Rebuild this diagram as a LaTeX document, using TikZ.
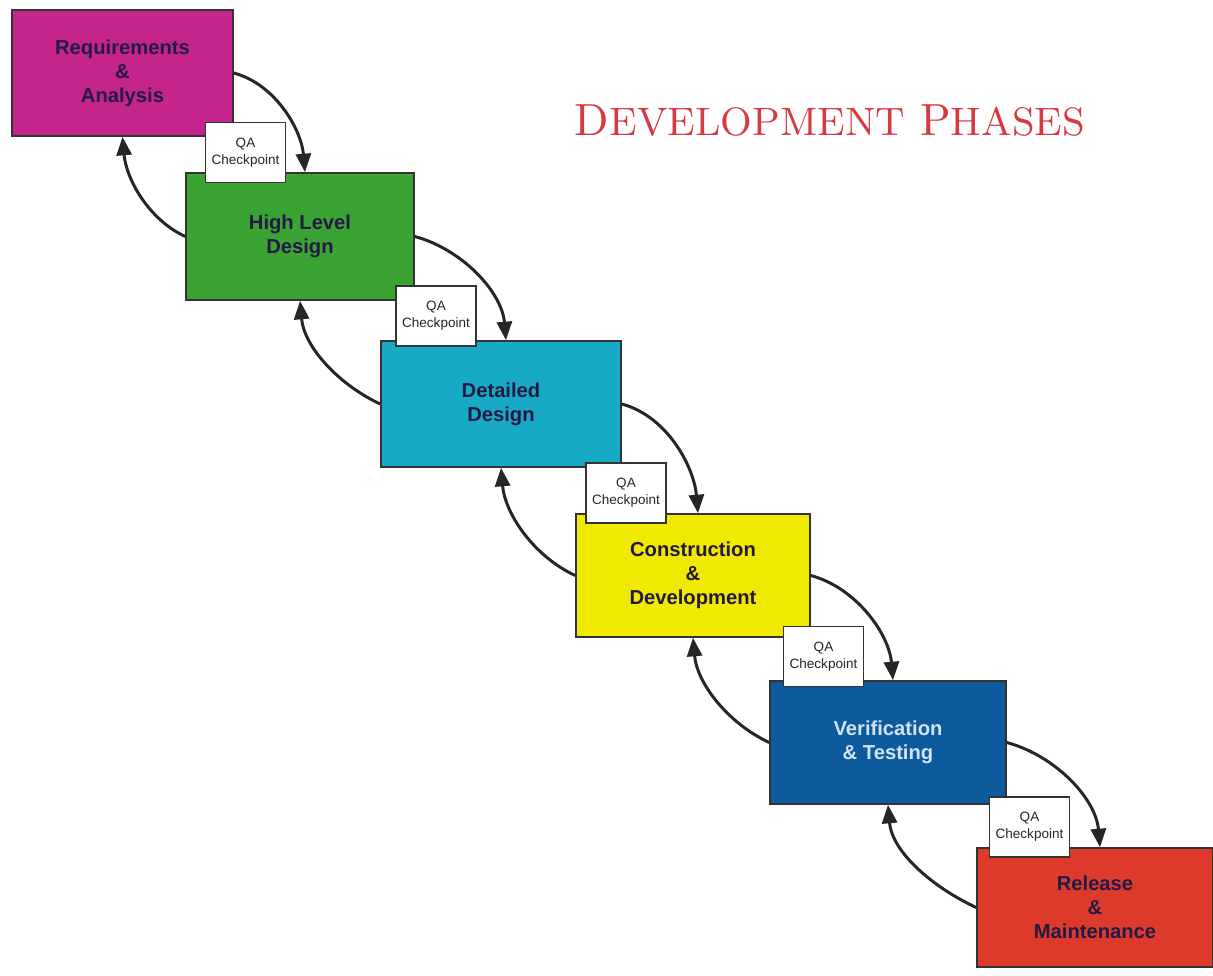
\documentclass[tikz,border=0pt]{standalone}
\usepackage{fontspec}
\setsansfont{Liberation Sans}
\usetikzlibrary{arrows.meta}
\newdimen\pxu \pxu=0.02cm
\definecolor{cmag}{HTML}{C4248C}
\definecolor{cgreen}{HTML}{3BA334}
\definecolor{ccyan}{HTML}{18A9C4}
\definecolor{cyel}{HTML}{F0EA00}
\definecolor{cblue}{HTML}{0D5A9C}
\definecolor{cred}{HTML}{DE3A2C}
\definecolor{ctext}{HTML}{221A45}
\definecolor{clight}{HTML}{CFE3F5}
\definecolor{ctitle}{HTML}{D63A40}
\tikzset{
  phase/.style={draw=black!80, line width=0.9pt, rectangle, align=center,
    font=\sffamily\bfseries\fontsize{11.5}{13.6}\selectfont, text=ctext},
  qabox/.style={draw=black!80, fill=white, line width=0.9pt, rectangle, align=center,
    font=\sffamily\fontsize{7.7}{9.6}\selectfont, text=black!85,
    minimum width=80\pxu, minimum height=60\pxu, inner sep=0pt},
  fwd/.style={line width=1.7pt, black!85, -{Triangle[length=0.37cm,width=0.3cm]}},
}
\begin{document}
\begin{tikzpicture}[x=0.02cm,y=-0.02cm]
\useasboundingbox (0,0) rectangle (1213,975);
\node[phase, fill=cmag, minimum width=221\pxu, minimum height=126\pxu] (p1) at (122.5,73) {Requirements\\\&\\Analysis};
\node[phase, fill=cgreen, minimum width=228\pxu, minimum height=127\pxu] (p2) at (300,236.5) {High Level\\Design};
\node[phase, fill=ccyan, minimum width=240\pxu, minimum height=126\pxu] (p3) at (501,404) {Detailed\\Design};
\node[phase, fill=cyel, minimum width=234\pxu, minimum height=123\pxu] (p4) at (693,575.5) {Construction\\\&\\Development};
\node[phase, fill=cblue, text=clight, minimum width=236\pxu, minimum height=123\pxu] (p5) at (888,742.5) {Verification\\\& Testing};
\node[phase, fill=cred, minimum width=236\pxu, minimum height=119\pxu] (p6) at (1095,907.5) {Release\\\&\\Maintenance};

\foreach \a/\b in {p1/p2,p2/p3,p3/p4,p4/p5,p5/p6}{
  \draw[fwd] (\a.east) to[out=-15,in=95,looseness=0.9] ([xshift=5\pxu]\b.north);
  \draw[fwd] (\b.west) to[out=155,in=-85,looseness=0.9] (\a.south);
}

\node[qabox] (q1) at (245.5,152.5) {QA\\Checkpoint};
\node[qabox] (q2) at (436,316) {QA\\Checkpoint};
\node[qabox] (q3) at (626,493) {QA\\Checkpoint};
\node[qabox] (q4) at (823.5,656.5) {QA\\Checkpoint};
\node[qabox] (q5) at (1029.5,827) {QA\\Checkpoint};

\node[text=ctitle, inner sep=0pt, anchor=base] (title) at (830,135) {\resizebox{510\pxu}{!}{D{\fontsize{8.8}{10}\selectfont EVELOPMENT} P{\fontsize{8.8}{10}\selectfont HASES}}};
\end{tikzpicture}
\end{document}
